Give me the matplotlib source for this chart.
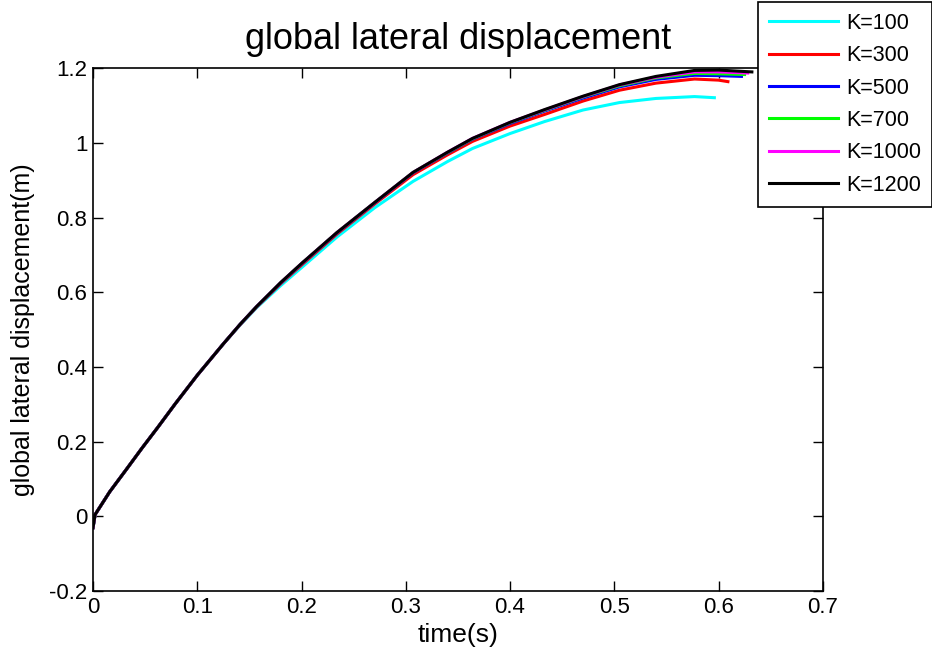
import matplotlib
matplotlib.use("Agg")
import matplotlib.pyplot as plt

plt.rcParams['font.family'] = ['Liberation Sans', 'DejaVu Sans']

labels = ["K=100", "K=300", "K=500", "K=700", "K=1000", "K=1200"]
colors = ["#00ffff", "#ff0000", "#0000ff", "#00ff00", "#ff00ff", "#000000"]

t_common = [0, 0.002, 0.016, 0.032, 0.047, 0.062, 0.079, 0.1, 0.125, 0.141, 0.157, 0.18,
            0.2, 0.234, 0.27, 0.307, 0.34, 0.364, 0.4, 0.433, 0.47, 0.505, 0.54, 0.577, 0.6]

y_k100 = [-0.03, 0.005, 0.066, 0.126, 0.183, 0.238, 0.302, 0.378, 0.462, 0.512, 0.559, 0.618,
          0.666, 0.748, 0.826, 0.897, 0.95, 0.985, 1.025, 1.057, 1.088, 1.108, 1.119, 1.124]
y_k300 = [-0.03, 0.005, 0.066, 0.126, 0.183, 0.238, 0.302, 0.378, 0.462, 0.513, 0.561, 0.623,
          0.673, 0.756, 0.836, 0.915, 0.968, 1.004, 1.045, 1.076, 1.112, 1.141, 1.160, 1.171, 1.168]
y_k500 = [-0.03, 0.005, 0.066, 0.126, 0.183, 0.238, 0.302, 0.378, 0.462, 0.514, 0.562, 0.625,
          0.676, 0.759, 0.839, 0.92, 0.973, 1.01, 1.052, 1.085, 1.12, 1.150, 1.170, 1.181, 1.180]
y_k700 = [-0.03, 0.005, 0.066, 0.126, 0.183, 0.238, 0.302, 0.378, 0.462, 0.514, 0.562, 0.626,
          0.677, 0.76, 0.84, 0.921, 0.974, 1.011, 1.054, 1.087, 1.123, 1.153, 1.174, 1.186, 1.185]
y_k1000 = [-0.03, 0.005, 0.066, 0.126, 0.183, 0.238, 0.302, 0.378, 0.462, 0.514, 0.562, 0.626,
           0.677, 0.76, 0.84, 0.921, 0.975, 1.012, 1.055, 1.088, 1.124, 1.155, 1.176, 1.190, 1.190]
y_k1200 = [-0.03, 0.005, 0.066, 0.126, 0.183, 0.238, 0.302, 0.378, 0.462, 0.514, 0.562, 0.626,
           0.677, 0.76, 0.84, 0.921, 0.975, 1.012, 1.055, 1.089, 1.125, 1.156, 1.178, 1.194, 1.195]

end_t = [0.596, 0.609, 0.622, 0.625, 0.628, 0.632]
end_y = [1.121, 1.164, 1.178, 1.183, 1.187, 1.190]

series = [y_k100, y_k300, y_k500, y_k700, y_k1000, y_k1200]

fig = plt.figure(figsize=(9.32, 6.62), dpi=100)
ax = fig.add_axes([0.0998, 0.107, 0.783, 0.790])

handles = []
for ys, c, lab, te, ye in zip(series, colors, labels, end_t, end_y):
    ts = t_common[:len(ys)] + [te]
    yy = ys + [ye]
    h, = ax.plot(ts, yy, color=c, lw=2.2, label=lab)
    handles.append(h)

ax.set_xlim(0, 0.7)
ax.set_ylim(-0.2, 1.2)
ax.set_xticks([0, 0.1, 0.2, 0.3, 0.4, 0.5, 0.6, 0.7])
ax.set_xticklabels(["0", "0.1", "0.2", "0.3", "0.4", "0.5", "0.6", "0.7"])
ax.set_yticks([-0.2, 0, 0.2, 0.4, 0.6, 0.8, 1, 1.2])
ax.set_yticklabels(["-0.2", "0", "0.2", "0.4", "0.6", "0.8", "1", "1.2"])
ax.tick_params(direction='in', top=True, right=True, length=7, width=1,
               labelsize=16, pad=4)
for s in ax.spines.values():
    s.set_linewidth(1.2)

ax.set_xlabel("time(s)", fontsize=19, labelpad=4)
ax.set_ylabel("global lateral displacement(m)", fontsize=18, labelpad=10)
ax.set_title("global lateral displacement", fontsize=26, pad=14)

leg = fig.legend(handles=handles, loc='upper right', bbox_to_anchor=(0.9995, 0.997),
                 bbox_transform=fig.transFigure, fontsize=15.5, frameon=True,
                 fancybox=False, edgecolor='black', framealpha=1,
                 handlelength=3.2, handletextpad=0.37, labelspacing=0.53,
                 borderpad=0.5, borderaxespad=0)
leg.get_frame().set_linewidth(1.2)

fig.savefig("out.png", dpi=100)
